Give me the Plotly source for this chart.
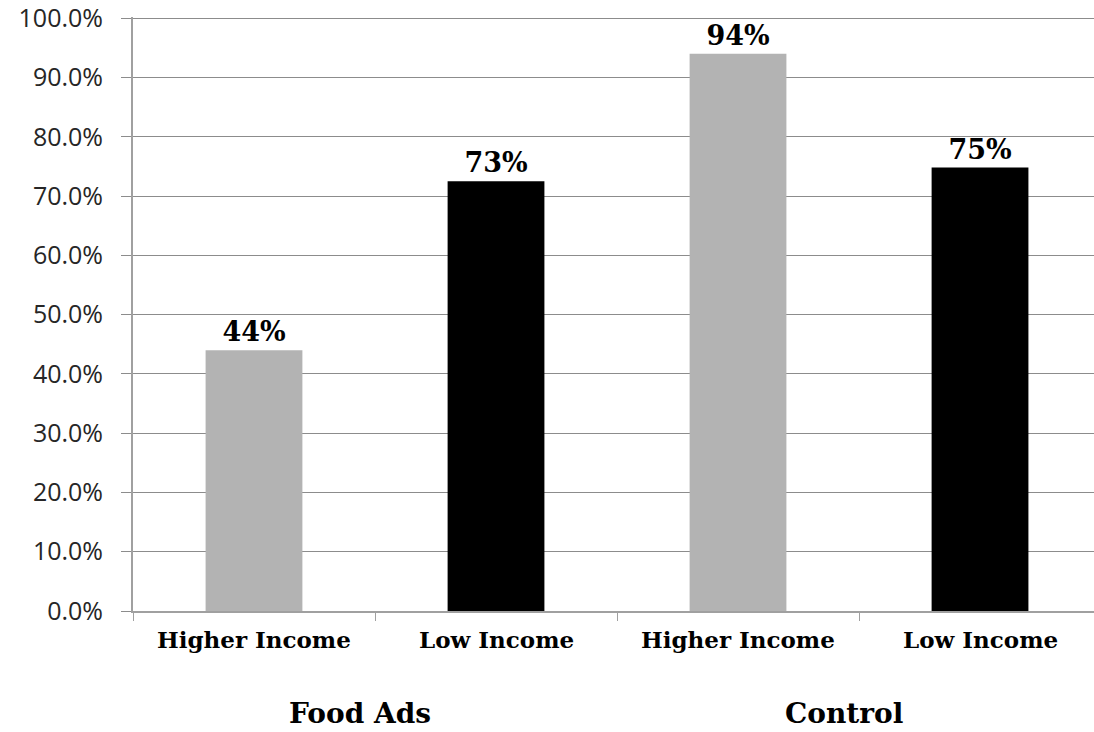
import plotly.graph_objects as go

# Data
groups = ["Food Ads", "Food Ads", "Control", "Control"]
categories = ["Higher Income", "Low Income", "Higher Income", "Low Income"]
values = [0.44, 0.725, 0.94, 0.748]
value_labels = ["44%", "73%", "94%", "75%"]
group_names = ["Food Ads", "Control"]
y_ticks = [0.0, 0.1, 0.2, 0.3, 0.4, 0.5, 0.6, 0.7, 0.8, 0.9, 1.0]

bar_colors = ["#b3b3b3", "#000000", "#b3b3b3", "#000000"]
xpos = list(range(len(categories)))

fig = go.Figure()
fig.add_trace(go.Bar(
    x=xpos, y=values, width=0.4,
    marker=dict(color=bar_colors, line=dict(width=0)),
    text=value_labels, textposition="outside", cliponaxis=False,
    textfont=dict(family="DejaVu Serif", size=27, color="#000000", weight="bold"),
    showlegend=False,
))

annotations = []
for i, c in enumerate(categories):
    annotations.append(dict(
        x=i, y=0, xref="x", yref="y", text=c, showarrow=False,
        yshift=-28, xanchor="center", yanchor="middle",
        font=dict(family="DejaVu Serif", size=23, color="#000000", weight="bold"),
    ))
for gi, g in enumerate(group_names):
    idx = [i for i, gg in enumerate(groups) if gg == g]
    cx = sum(idx) / len(idx)
    annotations.append(dict(
        x=cx - 0.06, y=0, xref="x", yref="y", text=g, showarrow=False,
        yshift=-102, xanchor="center", yanchor="middle",
        font=dict(family="DejaVu Serif", size=28, color="#000000", weight="bold"),
    ))

fig.update_layout(
    width=1094, height=732,
    margin=dict(l=133, r=0, t=17, b=121),
    paper_bgcolor="white", plot_bgcolor="white",
    xaxis=dict(
        range=[-0.5, 3.471], tickmode="array",
        tickvals=[-0.5, 0.5, 1.5, 2.5, 3.5], showticklabels=False,
        ticks="outside", ticklen=8, tickcolor="#a0a0a0", tickwidth=1,
        showline=True, linecolor="#a0a0a0", linewidth=2,
        showgrid=False, zeroline=False,
    ),
    yaxis=dict(
        range=[0, 1.002], tickmode="array", tickvals=y_ticks,
        tickformat=".1%", ticks="outside", ticklen=10, tickcolor="#8c8c8c",
        ticklabelstandoff=13, ticklabeloverflow="allow",
        tickfont=dict(family="Open Sans", size=25, color="#262626"),
        showline=True, linecolor="#a0a0a0", linewidth=2,
        showgrid=True, gridcolor="#8c8c8c", gridwidth=1.3, zeroline=False,
    ),
    annotations=annotations,
)

fig.write_html("out.html")
